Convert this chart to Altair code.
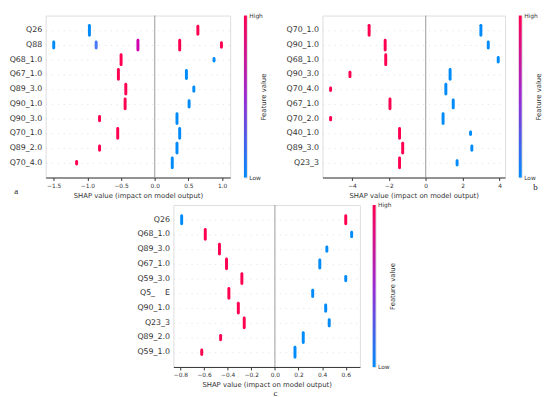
import altair as alt
import pandas as pd

# ---------------- Panel a ----------------
a_features = ["Q26", "Q88", "Q68_1.0", "Q67_1.0", "Q89_3.0", "Q90_1.0",
              "Q90_3.0", "Q70_1.0", "Q89_2.0", "Q70_4.0"]
a_point_feature = ["Q26", "Q26", "Q88", "Q88", "Q88", "Q88", "Q88",
                   "Q68_1.0", "Q68_1.0", "Q67_1.0", "Q67_1.0", "Q89_3.0", "Q89_3.0",
                   "Q90_1.0", "Q90_1.0", "Q90_3.0", "Q90_3.0", "Q70_1.0", "Q70_1.0",
                   "Q89_2.0", "Q89_2.0", "Q70_4.0", "Q70_4.0"]
a_shap = [-0.97, 0.64, -1.50, -0.87, -0.25, 0.37, 0.99,
          -0.50, 0.88, -0.54, 0.47, -0.43, 0.58,
          -0.44, 0.51, -0.82, 0.33, -0.55, 0.37,
          -0.82, 0.33, -1.16, 0.26]
a_fvalue = [0, 1, 0, 0.15, 0.65, 1, 1,
            1, 0, 1, 0, 1, 0,
            1, 0, 1, 0, 1, 0,
            1, 0, 1, 0]
a_count = [7, 6, 5, 5, 7, 7, 4,
           7, 3, 7, 6, 7, 4,
           7, 5, 4, 7, 7, 7,
           4, 7, 3, 7]
a_ticks = [-1.5, -1.0, -0.5, 0.0, 0.5, 1.0]

# ---------------- Panel b ----------------
b_features = ["Q70_1.0", "Q90_1.0", "Q68_1.0", "Q90_3.0", "Q70_4.0", "Q67_1.0",
              "Q70_2.0", "Q40_1.0", "Q89_3.0", "Q23_3"]
b_high_shap = [-3.07, -2.20, -2.17, -4.11, -5.16, -1.94, -5.16, -1.42, -1.25, -1.42]
b_low_shap = [2.99, 3.39, 3.93, 1.32, 1.09, 1.49, 0.94, 2.43, 2.50, 1.70]
b_high_count = [7, 7, 7, 4, 3, 7, 3, 7, 7, 7]
b_low_count = [7, 5, 4, 7, 7, 6, 7, 3, 4, 4]
b_ticks = [-4, -2, 0, 2, 4]

# ---------------- Panel c ----------------
c_features = ["Q26", "Q68_1.0", "Q89_3.0", "Q67_1.0", "Q59_3.0", "Q5_\u00a0\u00a0\u00a0\u00a0E",
              "Q90_1.0", "Q23_3", "Q89_2.0", "Q59_1.0"]
c_high_shap = [0.60, -0.59, -0.47, -0.41, -0.28, -0.39, -0.31, -0.26, -0.46, -0.62]
c_low_shap = [-0.79, 0.65, 0.44, 0.38, 0.60, 0.32, 0.43, 0.46, 0.24, 0.17]
c_high_count = [6, 7, 7, 7, 7, 7, 7, 7, 4, 4]
c_low_count = [6, 4, 4, 6, 4, 5, 5, 5, 7, 7]
c_ticks = [-0.8, -0.6, -0.4, -0.2, 0.0, 0.2, 0.4, 0.6]

BLUE = "#008bfb"
PURPLE = "#9b2ad3"
RED = "#ff0051"
FONT = "DejaVu Sans"
H = 165


def two_sided(features, high, low, nh, nl):
    rows = []
    for f, h, l, a, b in zip(features, high, low, nh, nl):
        rows.append({"feature": f, "shap": h, "fval": 1, "n": a})
        rows.append({"feature": f, "shap": l, "fval": 0, "n": b})
    return pd.DataFrame(rows)


def letter_layer(letter, lx, ly, opacity=1):
    return alt.Chart(pd.DataFrame({"t": [letter]})).mark_text(
        font="Liberation Serif", fontSize=9, color="#222222", opacity=opacity,
        align="left" if opacity == 0 else "center").encode(
        text="t:N", x=alt.value(lx), y=alt.value(ly))


def main_panel(df, features, domain, ticks, fmt, width, letter, lx, ly):
    xscale = alt.Scale(domain=domain, nice=False, zero=False)
    xaxis = alt.Axis(values=ticks, format=fmt, grid=False, domainColor="#333333",
                     tickColor="#333333", labelColor="#333333", labelFontSize=6,
                     tickSize=3, labelPadding=2, titleFontSize=7, titleFontWeight="normal",
                     titleColor="#333333", titlePadding=3,
                     title="SHAP value (impact on model output)")
    yaxis = alt.Axis(title=None, ticks=False, domain=False, grid=True,
                     gridColor="#cccccc", gridDash=[1, 5], gridWidth=0.6,
                     labelFontSize=8, labelColor="#333333", labelPadding=4,
                     bandPosition=0.5)
    zero = alt.Chart(pd.DataFrame({"shap": [0.0]})).mark_rule(
        color="#999999", strokeWidth=1).encode(
        x=alt.X("shap:Q", scale=xscale, axis=xaxis))
    pts = alt.Chart(df).mark_tick(thickness=3, cornerRadius=1.5, opacity=1).encode(
        x=alt.X("shap:Q", scale=xscale, axis=xaxis),
        y=alt.Y("feature:N", sort=features,
                scale=alt.Scale(paddingInner=0, paddingOuter=0.5), axis=yaxis),
        color=alt.Color("fval:Q", scale=alt.Scale(domain=[0, 0.5, 1],
                                                  range=[BLUE, PURPLE, RED]),
                        legend=None),
        size=alt.Size("n:Q", scale=alt.Scale(domain=[0, 7], range=[0, 13]), legend=None),
    )
    layers = [zero, pts]
    if letter is not None:
        layers.append(letter_layer(letter, lx, ly))
    return alt.layer(*layers).properties(width=width, height=H)


def colorbar(letter=None, lx=0, ly=0, pad_right=None):
    grad = alt.Gradient(
        gradient="linear",
        stops=[alt.GradientStop(color=BLUE, offset=0),
               alt.GradientStop(color=PURPLE, offset=0.5),
               alt.GradientStop(color=RED, offset=1)],
        x1=0, x2=0, y1=1, y2=0)
    bar = alt.Chart(pd.DataFrame({"lo": [0.0], "hi": [1.0]})).mark_rect(fill=grad).encode(
        y=alt.Y("lo:Q", scale=alt.Scale(domain=[0, 1]),
                axis=alt.Axis(orient="right", values=[0, 1],
                              labelExpr="datum.value == 1 ? 'High' : 'Low'",
                              ticks=False, domain=False, grid=False,
                              labelFontSize=6, labelColor="#333333", labelPadding=2,
                              title="Feature value", titleAngle=270, titleFontSize=7,
                              titleFontWeight="normal", titleColor="#333333",
                              titlePadding=4)),
        y2="hi:Q")
    layers = [bar]
    if letter is not None:
        layers.append(letter_layer(letter, lx, ly))
    if pad_right is not None:
        # invisible spacer text to shift the centred bottom panel
        layers.append(letter_layer("x", pad_right, H / 2, opacity=0))
    return alt.layer(*layers).properties(width=3, height=H)


a_df = pd.DataFrame({"feature": a_point_feature, "shap": a_shap,
                     "fval": a_fvalue, "n": a_count})
b_df = two_sided(b_features, b_high_shap, b_low_shap, b_high_count, b_low_count)
c_df = two_sided(c_features, c_high_shap, c_low_shap, c_high_count, c_low_count)

pa = main_panel(a_df, a_features, [-1.62, 1.12], a_ticks, ".1f", 188, "a", -30, H + 14)
pb = main_panel(b_df, b_features, [-5.6, 4.3], b_ticks, "d", 186, None, 0, 0)
pc = main_panel(c_df, c_features, [-0.86, 0.72], c_ticks, ".1f", 190, "c", 104, H + 27)

top = alt.hconcat(
    alt.hconcat(pa, colorbar(), spacing=12),
    alt.hconcat(pb, colorbar("b", 17, H + 10), spacing=12),
    spacing=18)
bottom = alt.hconcat(pc, colorbar(pad_right=37), spacing=11)

chart = alt.vconcat(top, bottom, spacing=2, center=True).properties(
    padding={"left": 0, "top": 0, "right": 0, "bottom": 0}
).configure_view(stroke=None).configure(font=FONT)

chart.save("out.html", embed_options={"renderer": "svg", "actions": False})
